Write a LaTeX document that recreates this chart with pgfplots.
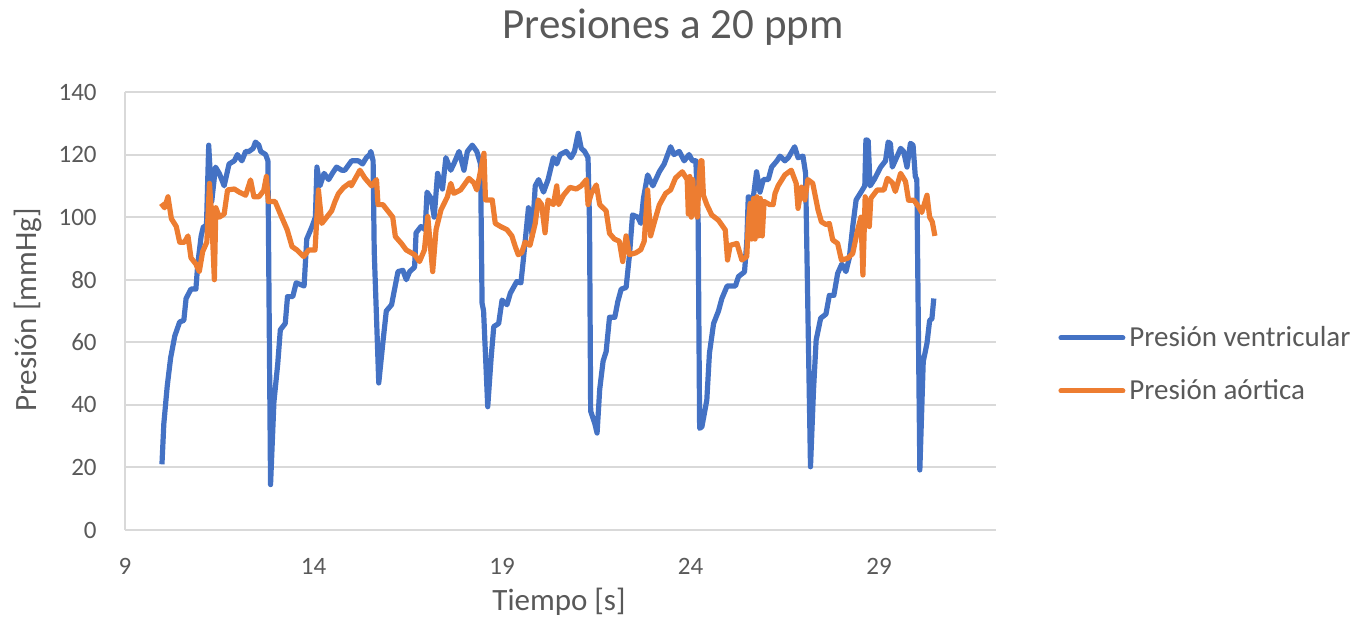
\documentclass[border=0pt]{standalone}
\usepackage{fontspec}
\setmainfont{Carlito}
\usepackage{pgfplots}
\pgfplotsset{compat=1.18}
\definecolor{vblue}{HTML}{4472C4}
\definecolor{aorange}{HTML}{ED7D31}
\definecolor{txtgray}{HTML}{595959}
\definecolor{gridgray}{HTML}{D9D9D9}
\begin{document}
\begin{tikzpicture}
\useasboundingbox (-62.5bp,-51bp) rectangle (620.5bp,265bp);
\begin{axis}[
  at={(0,0)}, anchor=south west,
  scale only axis, width=435.5bp, height=219bp,
  xmin=9, xmax=32.1, ymin=0, ymax=140,
  xtick={9,14,19,24,29}, ytick={0,20,...,140},
  axis x line=bottom, axis y line=left,
  axis line style={-, draw=gridgray, line width=1bp},
  major tick length=0pt,
  ymajorgrids, grid style={draw=gridgray, line width=1bp},
  /pgf/number format/assume math mode=true,
  ticklabel style={font=\fontsize{12.5bp}{15bp}\selectfont, text=txtgray, inner sep=0pt},
  xticklabel style={anchor=base, yshift=-22.2bp},
  yticklabel style={anchor=east, xshift=-14bp},
  legend style={at={(1.0712,0.378)}, anchor=west, draw=none, fill=none, inner sep=0pt,
    font=\fontsize{14.5bp}{17bp}\selectfont, text=txtgray, row sep=11bp, column sep=0pt},
  legend cell align=left,
  legend image code/.code={\draw[#1, line width=2.5bp, line cap=round] (0bp,0bp) -- (31bp,0bp);},
]
\addplot[vblue, line width=2.6bp, line join=round, mark=none] coordinates {
(9.98,21) (10.03,34) (10.12,46) (10.21,55) (10.32,62) (10.45,66.5) (10.56,67) (10.62,74)
(10.75,77) (10.88,77) (10.93,85) (11.02,94) (11.08,97) (11.16,97) (11.22,123) (11.30,105)
(11.40,116) (11.50,114) (11.63,110) (11.76,117) (11.90,118) (11.98,120) (12.10,118) (12.20,121)
(12.29,121) (12.40,122) (12.46,124) (12.55,123) (12.60,121) (12.73,120) (12.79,118) (12.86,14.5)
(12.95,41) (13.05,53) (13.12,64) (13.25,66) (13.31,74.6) (13.45,74.6) (13.54,79) (13.75,78)
(13.82,93) (13.96,97) (14.05,100) (14.09,116) (14.17,110) (14.28,114) (14.40,112) (14.50,114)
(14.61,116) (14.75,115) (14.83,115) (15.01,118) (15.19,118) (15.30,117) (15.40,119) (15.49,120)
(15.52,121) (15.58,118) (15.61,89) (15.73,47) (15.84,60) (15.93,70) (16.07,72) (16.15,77)
(16.24,82.6) (16.37,83) (16.46,80) (16.55,82.6) (16.68,84) (16.72,95) (16.85,97) (16.96,96)
(17.01,108) (17.12,106) (17.20,100) (17.29,114) (17.42,109) (17.51,119) (17.64,115) (17.72,117)
(17.86,121) (17.99,115) (18.08,121) (18.21,123) (18.33,121) (18.43,117) (18.47,72.5) (18.51,70)
(18.62,39.4) (18.71,55) (18.78,65) (18.91,66) (19.00,73.5) (19.13,72) (19.22,75.7) (19.39,79.4)
(19.50,79) (19.57,87) (19.70,103) (19.80,94) (19.88,110) (19.97,112) (20.10,108) (20.22,112)
(20.36,119) (20.45,117) (20.54,120) (20.70,121) (20.83,119) (20.92,121) (21.02,126.8) (21.10,122)
(21.19,121) (21.28,119) (21.32,98) (21.35,38) (21.46,34) (21.52,31) (21.59,45) (21.68,54)
(21.76,57) (21.85,68) (21.99,68) (22.07,73) (22.16,77) (22.29,77.5) (22.38,88) (22.46,100.7)
(22.60,100) (22.68,98) (22.75,106) (22.86,113.5) (23.00,110) (23.17,114.5) (23.30,117) (23.47,122.5)
(23.56,120) (23.70,121) (23.83,118) (23.96,120) (24.05,118) (24.14,118) (24.20,99) (24.24,32.5)
(24.30,33) (24.43,41.5) (24.50,56.5) (24.61,66) (24.74,70) (24.83,74) (24.97,78) (25.19,78)
(25.27,81) (25.43,82.5) (25.49,92) (25.53,106.5) (25.66,106) (25.75,114.5) (25.84,108) (25.93,112)
(26.06,112) (26.15,116) (26.29,118) (26.37,119.5) (26.50,118) (26.59,119) (26.76,122.5) (26.85,119)
(26.98,119.5) (27.05,114) (27.18,20.2) (27.26,44.7) (27.33,60.7) (27.45,67.7) (27.59,69) (27.68,75)
(27.80,75) (27.90,82) (28.01,85) (28.12,82.6) (28.21,87) (28.30,97) (28.39,105.5) (28.52,108)
(28.62,110) (28.65,124.7) (28.71,124.5) (28.76,110) (28.87,112) (29.04,116) (29.17,118) (29.24,124)
(29.30,123.5) (29.35,116) (29.48,119.5) (29.57,122) (29.65,121) (29.74,116) (29.83,123.6) (29.90,123)
(29.96,113) (30.00,112) (30.08,19.2) (30.17,53.8) (30.27,59.7) (30.34,67) (30.40,67.5) (30.45,74)
};
\addlegendentry{Presión ventricular}
\addplot[aorange, line width=2.6bp, line join=round, mark=none] coordinates {
(9.96,104.4) (10.05,103) (10.14,106.5) (10.23,99.5) (10.36,97) (10.45,92) (10.58,92) (10.67,94)
(10.75,87) (10.88,85) (10.97,82.6) (11.06,89) (11.17,92) (11.24,110.8) (11.30,100) (11.37,80)
(11.41,103) (11.50,100) (11.63,101) (11.72,108.7) (11.90,109) (12.03,108) (12.20,107) (12.33,111.9)
(12.42,106.5) (12.55,106.5) (12.68,108.5) (12.75,113) (12.80,105) (12.98,105) (13.12,101) (13.30,96)
(13.43,90.6) (13.56,89.5) (13.74,87.4) (13.87,89.5) (14.04,89.5) (14.13,108.7) (14.22,98) (14.35,100)
(14.48,102) (14.57,105) (14.66,107.5) (14.80,109.5) (14.97,111) (15.00,110) (15.23,115) (15.36,112.5)
(15.54,110) (15.67,112) (15.71,104) (15.84,104) (15.97,102) (16.10,100) (16.17,93.8) (16.33,91.6)
(16.46,89.5) (16.68,88) (16.81,85.8) (16.94,89.5) (17.03,100.2) (17.16,82.6) (17.25,96) (17.38,102.3)
(17.55,106.5) (17.64,110.8) (17.72,107.6) (17.90,108.7) (18.12,112.4) (18.25,111) (18.33,108.7) (18.52,120.4)
(18.56,105.5) (18.74,105.5) (18.82,98) (18.96,97) (19.13,96) (19.26,94) (19.35,90.6) (19.43,88)
(19.52,88.6) (19.61,92) (19.74,91) (19.88,98) (19.96,105.5) (20.05,104) (20.14,95) (20.22,105.5)
(20.36,104) (20.45,110) (20.50,104) (20.63,107) (20.80,109.5) (20.97,109) (21.10,110) (21.24,112)
(21.28,104) (21.37,107.6) (21.50,110.3) (21.59,104) (21.76,102) (21.85,94.8) (21.98,93) (22.11,92.3)
(22.20,85.8) (22.29,94) (22.38,88) (22.55,88.6) (22.68,89.6) (22.77,92.3) (22.86,108.7) (22.94,94)
(23.03,98) (23.17,103.9) (23.34,107.6) (23.47,108.7) (23.60,112.5) (23.78,114.5) (23.91,112) (23.94,101)
(23.98,113) (24.02,100) (24.06,112) (24.10,101) (24.14,108) (24.18,100) (24.23,113) (24.27,118)
(24.30,118) (24.34,107) (24.43,104) (24.56,100.7) (24.74,99)
(24.92,95.9) (24.98,86.3) (25.05,91) (25.23,91.6) (25.36,86.3) (25.49,87.4) (25.53,98) (25.58,104.4)
(25.62,93) (25.67,106) (25.71,93) (25.76,106.5) (25.80,94) (25.85,106) (25.90,94) (25.95,105)
(26.10,104) (26.19,104) (26.24,107.6) (26.32,110)
(26.50,113.5) (26.67,115) (26.80,110.8) (26.85,102.8) (26.94,109.6) (27.03,105.5) (27.11,112) (27.24,110.8)
(27.38,102.3) (27.47,98.5) (27.60,97.6) (27.68,98) (27.77,92.7) (27.90,91.6) (28.00,86.3) (28.16,86.8)
(28.30,88.4) (28.43,95.9) (28.52,100) (28.57,81.5) (28.63,106.5) (28.74,97) (28.78,106) (28.95,108.7)
(29.13,108.7) (29.22,112.4) (29.35,111) (29.43,108.2) (29.57,114) (29.70,111.4) (29.78,105.4) (29.92,105.4)
(30.04,103.5) (30.13,101.5) (30.27,107) (30.34,100) (30.41,98.5) (30.48,94)
};
\addlegendentry{Presión aórtica}
\end{axis}
\node[anchor=base, text=txtgray, font=\fontsize{21.5bp}{26bp}\selectfont] at (274bp,245.5bp) {Presiones a 20 ppm};
\node[anchor=base, text=txtgray, font=\fontsize{15.5bp}{18bp}\selectfont] at (217bp,-40bp) {Tiempo [s]};
\node[rotate=90, anchor=center, text=txtgray, font=\fontsize{15.5bp}{18bp}\selectfont] at (-48.5bp,110bp) {Presión [mmHg]};
\end{tikzpicture}
\end{document}
